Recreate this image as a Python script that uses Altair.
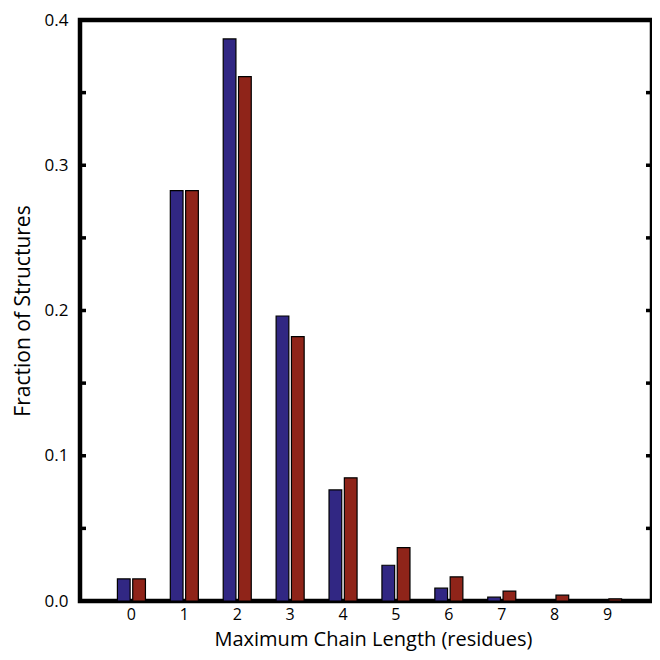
import altair as alt
import pandas as pd

categories = ["0", "1", "2", "3", "4", "5", "6", "7", "8", "9"]
series_a = [0.0152, 0.2825, 0.3870, 0.1962, 0.0765, 0.0246, 0.0088, 0.0026, 0.0006, 0.0000]
series_b = [0.0152, 0.2825, 0.3610, 0.1820, 0.0848, 0.0368, 0.0166, 0.0068, 0.0040, 0.0014]
series_names = ["A", "B"]
colors = ["#312783", "#8f2419"]
tick_values = [0.05, 0.10, 0.15, 0.20, 0.25, 0.30, 0.35]

rows = []
for i, c in enumerate(categories):
    rows.append({"len": c, "series": series_names[0], "frac": series_a[i]})
    rows.append({"len": c, "series": series_names[1], "frac": series_b[i]})
df = pd.DataFrame(rows)
ticks_df = pd.DataFrame({"v": tick_values})

FONT = "Open Sans"
W, H = 572, 581
XRANGE = 579  # band layout of the original, whose right edge runs past the page

yscale = alt.Scale(domain=[0, 0.4], nice=False)

bars = alt.Chart(df).mark_bar(stroke="black", strokeWidth=1.2).encode(
    x=alt.X("len:N", sort=categories,
            scale=alt.Scale(paddingInner=0.47, paddingOuter=0.707, range=[0, XRANGE]),
            axis=alt.Axis(title="Maximum Chain Length (residues)", labelAngle=0,
                          domain=False, ticks=False, labelPadding=5,
                          labelFont=FONT, labelFontSize=16, labelColor="black",
                          titleFont=FONT, titleFontSize=20, titleFontWeight="normal",
                          titleColor="black", titlePadding=7, titleX=293)),
    xOffset=alt.XOffset("series:N", scale=alt.Scale(paddingInner=0.17, paddingOuter=0)),
    y=alt.Y("frac:Q", scale=yscale,
            axis=alt.Axis(title="Fraction of Structures", values=[0, 0.1, 0.2, 0.3, 0.4],
                          format=".1f", domain=False, ticks=False, grid=False,
                          labelPadding=12, labelFont=FONT, labelFontSize=17,
                          labelColor="black", titleFont=FONT, titleFontSize=21,
                          titleFontWeight="normal", titleColor="black", titlePadding=11)),
    color=alt.Color("series:N", scale=alt.Scale(domain=series_names, range=colors), legend=None),
)

left_ticks = alt.Chart(ticks_df).mark_rule(color="black", strokeWidth=3.5).encode(
    x=alt.value(0), x2=alt.value(6), y=alt.Y("v:Q", scale=yscale)
)
right_ticks = alt.Chart(ticks_df).mark_rule(color="black", strokeWidth=3.5).encode(
    x=alt.value(W - 6), x2=alt.value(W), y=alt.Y("v:Q", scale=yscale)
)

chart = alt.layer(bars, left_ticks, right_ticks).properties(
    width=W, height=H,
    autosize=alt.AutoSizeParams(type="none"),
    padding={"left": 72, "top": 12, "right": 0, "bottom": 51},
).configure_view(stroke="black", strokeWidth=4.5).configure_axis(grid=False)

chart.save("out.html", embed_options={"renderer": "svg", "actions": False})
